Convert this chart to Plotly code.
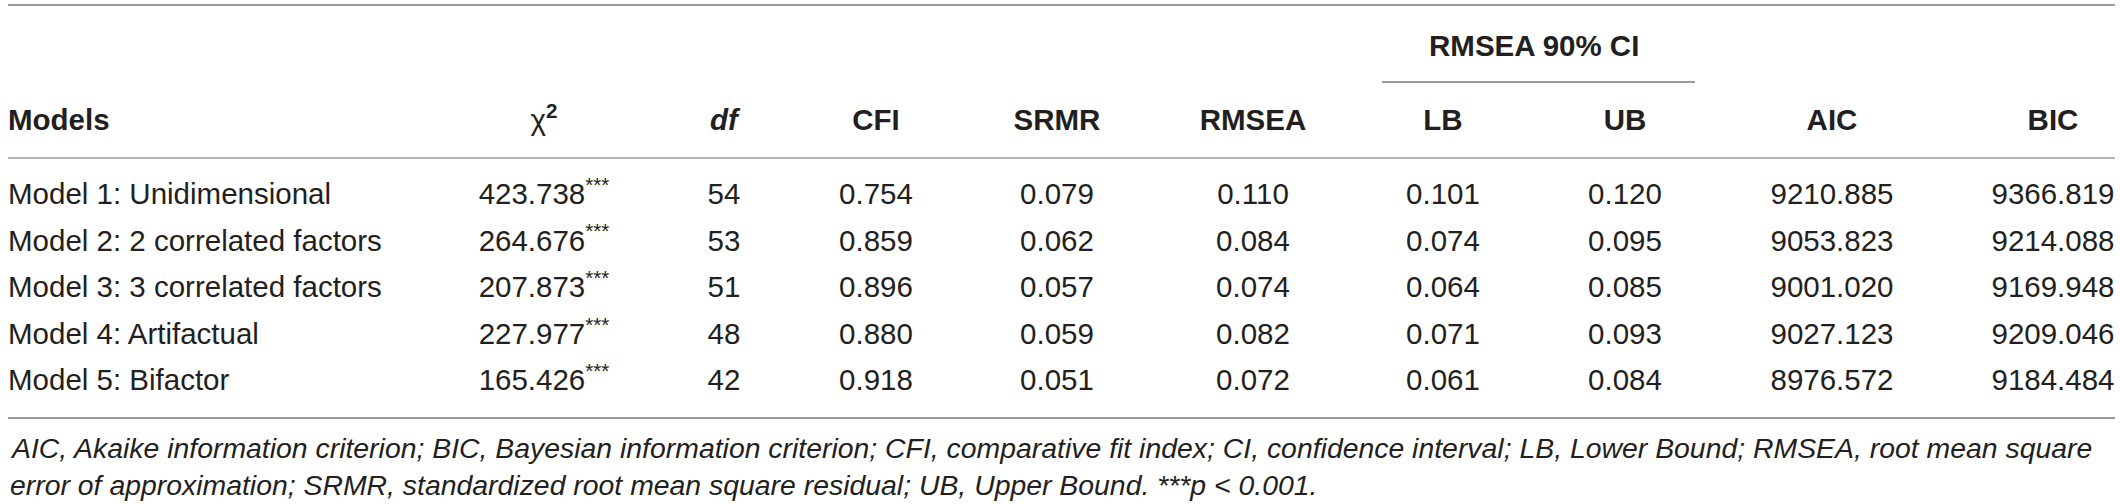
import plotly.graph_objects as go

# table content
models = ["Model 1: Unidimensional", "Model 2: 2 correlated factors", "Model 3: 3 correlated factors",
          "Model 4: Artifactual", "Model 5: Bifactor"]
chi2 = ["423.738", "264.676", "207.873", "227.977", "165.426"]
df = ["54", "53", "51", "48", "42"]
cfi = ["0.754", "0.859", "0.896", "0.880", "0.918"]
srmr = ["0.079", "0.062", "0.057", "0.059", "0.051"]
rmsea = ["0.110", "0.084", "0.074", "0.082", "0.072"]
lb = ["0.101", "0.074", "0.064", "0.071", "0.061"]
ub = ["0.120", "0.095", "0.085", "0.093", "0.084"]
aic = ["9210.885", "9053.823", "9001.020", "9027.123", "8976.572"]
bic = ["9366.819", "9214.088", "9169.948", "9209.046", "9184.484"]

headers = ["<b>Models</b>", "χ<sup><b>2</b></sup>", "<b><i>df</i></b>", "<b>CFI</b>", "<b>SRMR</b>",
           "<b>RMSEA</b>", "<b>LB</b>", "<b>UB</b>", "<b>AIC</b>", "<b>BIC</b>"]
span_header = "<b>RMSEA 90% CI</b>"
note_1 = ("AIC, Akaike information criterion; BIC, Bayesian information criterion; CFI, comparative fit index; "
          "CI, confidence interval; LB, Lower Bound; RMSEA, root mean square")
note_2 = ("error of approximation; SRMR, standardized root mean square residual; UB, Upper Bound. "
          "***p &lt; 0.001.")

# layout (pixels)
W, H = 2120, 504
col_x = [8, 544, 724, 876, 1057, 1253, 1443, 1625, 1832, 2053]
row_y = [197, 243.5, 290, 337, 383]
header_y = 123
ink = "#231f20"
font = dict(family="Liberation Sans, Arial, sans-serif", size=29.5, color=ink)
note_font = dict(font, size=28.4)

columns = [models, [c + "<sup>***</sup>" for c in chi2], df, cfi, srmr, rmsea, lb, ub, aic, bic]

fig = go.Figure()
for i, col in enumerate(columns):
    fig.add_trace(go.Scatter(
        x=[col_x[i]] * len(col), y=row_y, mode="text", text=col,
        textposition="middle right" if i == 0 else "middle center",
        textfont=font, hoverinfo="skip", showlegend=False, cliponaxis=False))

fig.add_trace(go.Scatter(
    x=col_x, y=[header_y] * len(headers), mode="text", text=headers,
    textposition=["middle right"] + ["middle center"] * (len(headers) - 1),
    textfont=font, hoverinfo="skip", showlegend=False, cliponaxis=False))

fig.add_annotation(x=(col_x[6] + col_x[7]) / 2, y=45, text=span_header, showarrow=False,
                   xanchor="center", yanchor="middle", font=font)
fig.add_annotation(x=8, y=448, text="<i>" + note_1 + "</i>", showarrow=False,
                   xanchor="left", yanchor="middle", font=note_font)
fig.add_annotation(x=8, y=485, text="<i>" + note_2 + "</i>", showarrow=False,
                   xanchor="left", yanchor="middle", font=note_font)

# table rules
rules = [(8, 2115, 5, "#9a9a9a"), (1382, 1695, 82, "#9a9a9a"),
         (8, 2115, 158, "#b4b4b4"), (8, 2115, 418, "#9a9a9a")]
for x0, x1, y, c in rules:
    fig.add_shape(type="line", x0=x0, x1=x1, y0=y, y1=y, line=dict(color=c, width=2))

fig.update_layout(
    width=W, height=H, margin=dict(l=0, r=0, t=0, b=0),
    paper_bgcolor="white", plot_bgcolor="white",
    xaxis=dict(range=[0, W], visible=False, fixedrange=True),
    yaxis=dict(range=[H, 0], visible=False, fixedrange=True),
)
# drop the default page margin so the figure fills the window exactly
fig.write_html("out.html", config={"displayModeBar": False},
               post_script="document.body.style.margin='0';document.body.style.overflow='hidden';")
